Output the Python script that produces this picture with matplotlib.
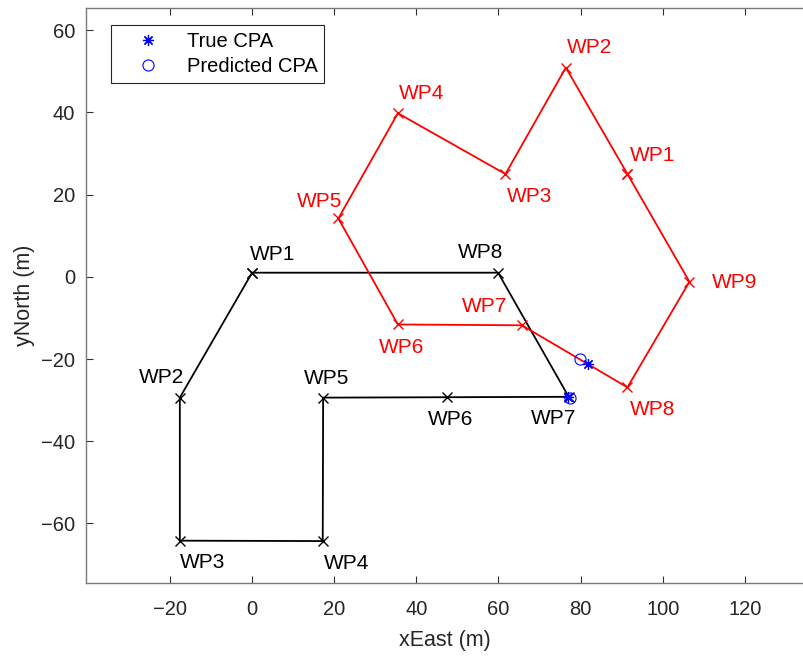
import matplotlib.pyplot as plt

plt.rcParams['font.family'] = ['Liberation Sans', 'DejaVu Sans']

# own ship route (black), closed loop
own_names = ['WP1', 'WP2', 'WP3', 'WP4', 'WP5', 'WP6', 'WP7', 'WP8']
own_x = [0.0, -17.6, -17.6, 17.2, 17.3, 47.4, 77.1, 59.9]
own_y = [1.0, -29.4, -64.2, -64.3, -29.4, -29.3, -29.2, 1.0]

# target route (red), closed loop
tgt_names = ['WP1', 'WP2', 'WP3', 'WP4', 'WP5', 'WP6', 'WP7', 'WP8', 'WP9']
tgt_x = [91.4, 76.4, 61.7, 35.5, 21.0, 35.5, 65.7, 91.4, 106.5]
tgt_y = [25.0, 50.9, 25.0, 39.8, 14.2, -11.6, -11.8, -26.9, -1.2]

# closest point of approach, own ship and target
true_cpa_x = [76.9, 81.9]
true_cpa_y = [-29.3, -21.1]
pred_cpa_x = [77.5, 79.9]
pred_cpa_y = [-29.5, -20.1]

# label offsets in pixels (dx, dy)
own_off = [(20, 18), (-18, 20), (23, -22), (24, -22), (3, 19), (4, -22), (-15, -22), (-17, 20)]
tgt_off = [(25, 19), (24, 20), (24, -22), (24, 20), (-19, 17), (4, -23), (-37, 19), (25, -22), (45, -1)]

fig = plt.figure(figsize=(8.04, 6.6), dpi=100)
ax = fig.add_axes([86 / 804, 77 / 660, 718 / 804, 575 / 660])

ax.plot(own_x + own_x[:1], own_y + own_y[:1], color='k', lw=1.3,
        marker='x', ms=7.5, mew=1.0)
ax.plot(tgt_x + tgt_x[:1], tgt_y + tgt_y[:1], color='red', lw=1.3,
        marker='x', ms=7.5, mew=1.0)

ax.plot(true_cpa_x, true_cpa_y, ls='none', marker=(8, 2, 0), ms=8, mew=0.9,
        color='blue', label='True CPA')
ax.plot(pred_cpa_x, pred_cpa_y, ls='none', marker='o', ms=8, mew=0.8,
        mfc='none', color='blue', label='Predicted CPA')

for name, x, y, off in zip(own_names, own_x, own_y, own_off):
    ax.annotate(name, (x, y), xytext=off, textcoords='offset pixels',
                ha='center', va='center', fontsize=15, color='k')
for name, x, y, off in zip(tgt_names, tgt_x, tgt_y, tgt_off):
    ax.annotate(name, (x, y), xytext=off, textcoords='offset pixels',
                ha='center', va='center', fontsize=15, color='red')

ax.set_xlim(-40.45, 134.4)
ax.set_ylim(-74.5, 65.4)
ax.set_xticks([-20, 0, 20, 40, 60, 80, 100, 120])
ax.set_yticks([-60, -40, -20, 0, 20, 40, 60])
ax.set_xticklabels(['\u221220', '0', '20', '40', '60', '80', '100', '120'])
ax.set_yticklabels(['\u221260', '\u221240', '\u221220', '0', '20', '40', '60'])

spine_col = '#7a7a7a'
for s in ['left', 'bottom', 'top']:
    ax.spines[s].set_color(spine_col)
    ax.spines[s].set_linewidth(1.0)
ax.spines['right'].set_visible(False)
ax.tick_params(direction='in', length=5, width=0.8, color='#303030',
               labelsize=14.5, labelcolor='#262626', top=True, right=False)
ax.tick_params(axis='x', pad=12)
ax.tick_params(axis='y', pad=8)

ax.set_xlabel('xEast (m)', fontsize=15.5, color='#262626', labelpad=8)
ax.set_ylabel('yNorth (m)', fontsize=15.5, color='#262626', labelpad=4)

leg = ax.legend(loc='upper left', bbox_to_anchor=(0.035, 0.97), borderaxespad=0,
                fontsize=14.5, fancybox=False, framealpha=1, edgecolor='#262626',
                handlelength=3.0, handletextpad=0.4, borderpad=0.35,
                labelspacing=0.3)
leg.get_frame().set_linewidth(0.8)

fig.savefig('out.png', dpi=100)
